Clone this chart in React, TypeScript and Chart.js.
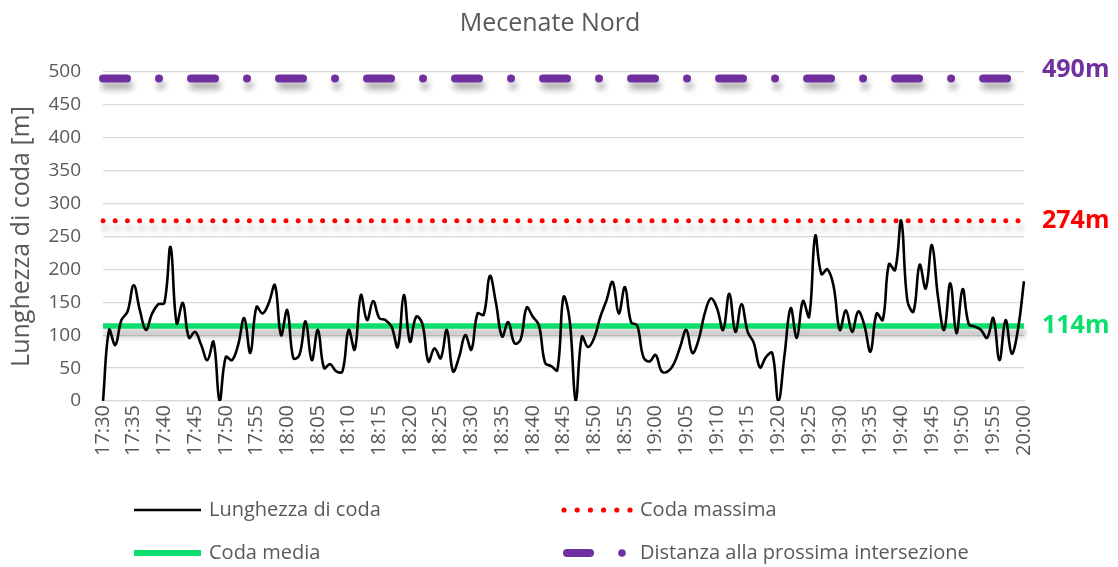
import React, { useEffect, useRef } from "react";
import { Chart, registerables } from "chart.js";

Chart.register(...registerables);

const TITLE = "Mecenate Nord";
const Y_TITLE = "Lunghezza di coda [m]";

const TICK_LABELS = [
  "17:30", "17:35", "17:40", "17:45", "17:50", "17:55",
  "18:00", "18:05", "18:10", "18:15", "18:20", "18:25",
  "18:30", "18:35", "18:40", "18:45", "18:50", "18:55",
  "19:00", "19:05", "19:10", "19:15", "19:20", "19:25",
  "19:30", "19:35", "19:40", "19:45", "19:50", "19:55", "20:00",
];

// one value per minute, 17:30 .. 20:00
const QUEUE = [
  0, 108, 85, 123, 136, 176, 138, 108, 133, 147,
  149, 234, 118, 149, 96, 105, 85, 62, 90, 0,
  67, 62, 85, 126, 73, 143, 133, 149, 176, 100,
  138, 65, 70, 121, 62, 108, 50, 56, 45, 45,
  108, 78, 161, 123, 152, 126, 123, 113, 82, 161,
  90, 128, 118, 60, 80, 65, 108, 45, 67, 100,
  78, 133, 131, 190, 149, 98, 120, 88, 93, 142,
  128, 115, 58, 53, 47, 158, 123, 0, 98, 82,
  96, 128, 153, 181, 133, 173, 120, 115, 67, 60,
  70, 45, 45, 57, 82, 108, 73, 93, 133, 156,
  141, 108, 163, 105, 147, 105, 88, 51, 67, 73,
  0, 70, 141, 96, 152, 128, 251, 193, 200, 174,
  108, 138, 105, 136, 115, 75, 133, 123, 208, 199,
  274, 153, 136, 207, 171, 237, 158, 108, 179, 103,
  170, 117, 113, 108, 96, 126, 62, 123, 72, 108,
  182,
];

const MAX_QUEUE = 274;
const MEAN_QUEUE = 114;
const NEXT_INTERSECTION = 490;

const SERIES_NAMES = [
  "Lunghezza di coda",
  "Coda massima",
  "Coda media",
  "Distanza alla prossima intersezione",
];

const COLORS = {
  queue: "#000000",
  max: "#FF0000",
  mean: "#0ADF6E",
  dist: "#7030A0",
  text: "#595959",
  grid: "#D9D9D9",
};

const FONT = "'Open Sans', 'DejaVu Sans', sans-serif";

export default function App() {
  const canvasRef = useRef<HTMLCanvasElement | null>(null);

  useEffect(() => {
    document.body.style.margin = "0";
    const canvas = canvasRef.current;
    if (!canvas) return;
    const categories = QUEUE.map((_, i) => i);

    const shadowPlugin = {
      id: "lineShadow",
      beforeDatasetDraw(chart: any, args: any) {
        if (args.index === 0) return;
        const ctx = chart.ctx;
        ctx.save();
        ctx.shadowColor = "rgba(0,0,0,0.32)";
        ctx.shadowBlur = 6;
        ctx.shadowOffsetX = 2;
        ctx.shadowOffsetY = 7;
      },
      afterDatasetDraw(chart: any, args: any) {
        if (args.index === 0) return;
        chart.ctx.restore();
      },
    };

    const decorPlugin = {
      id: "decor",
      afterDraw(chart: any) {
        const ctx = chart.ctx;
        const y = chart.scales.y;
        ctx.save();
        // title
        ctx.fillStyle = COLORS.text;
        ctx.font = `25px ${FONT}`;
        ctx.textAlign = "center";
        ctx.textBaseline = "middle";
        ctx.fillText(TITLE, 550, 24);

        // right value labels
        ctx.textAlign = "left";
        ctx.font = `bold 25px ${FONT}`;
        ctx.fillStyle = COLORS.dist;
        ctx.fillText(`${NEXT_INTERSECTION}m`, 1042, y.getPixelForValue(NEXT_INTERSECTION) - 9);
        ctx.fillStyle = COLORS.max;
        ctx.fillText(`${MAX_QUEUE}m`, 1042, y.getPixelForValue(MAX_QUEUE));
        ctx.fillStyle = COLORS.mean;
        ctx.fillText(`${MEAN_QUEUE}m`, 1042, y.getPixelForValue(MEAN_QUEUE));

        // legend
        const r1 = 510;
        const r2 = 553;
        ctx.lineCap = "butt";
        ctx.strokeStyle = COLORS.queue;
        ctx.lineWidth = 2.5;
        ctx.beginPath();
        ctx.moveTo(134, r1);
        ctx.lineTo(201, r1);
        ctx.stroke();

        ctx.strokeStyle = COLORS.mean;
        ctx.lineWidth = 6;
        ctx.beginPath();
        ctx.moveTo(134, r2);
        ctx.lineTo(201, r2);
        ctx.stroke();

        ctx.fillStyle = COLORS.max;
        for (let i = 0; i < 6; i++) {
          ctx.beginPath();
          ctx.arc(564 + i * 13.2, r1, 2.6, 0, Math.PI * 2);
          ctx.fill();
        }

        ctx.strokeStyle = COLORS.dist;
        ctx.lineWidth = 8;
        ctx.lineCap = "round";
        ctx.beginPath();
        ctx.moveTo(567, r2);
        ctx.lineTo(590, r2);
        ctx.stroke();
        ctx.fillStyle = COLORS.dist;
        ctx.beginPath();
        ctx.arc(622, r2, 3.8, 0, Math.PI * 2);
        ctx.fill();

        ctx.fillStyle = COLORS.text;
        ctx.font = `20px ${FONT}`;
        ctx.textBaseline = "middle";
        ctx.fillText(SERIES_NAMES[0], 209, r1);
        ctx.fillText(SERIES_NAMES[2], 209, r2);
        ctx.fillText(SERIES_NAMES[1], 640, r1);
        ctx.fillText(SERIES_NAMES[3], 640, r2);
        ctx.restore();
      },
    };

    const chart = new Chart(canvas, {
      type: "line",
      data: {
        labels: categories,
        datasets: [
          {
            label: SERIES_NAMES[0],
            data: QUEUE,
            borderColor: COLORS.queue,
            borderWidth: 2.6,
            pointRadius: 0,
            tension: 0.4,
            fill: false,
            order: 0,
          },
          {
            label: SERIES_NAMES[1],
            data: QUEUE.map(() => MAX_QUEUE),
            borderColor: COLORS.max,
            borderWidth: 5,
            borderDash: [0, 12.2],
            borderCapStyle: "round",
            pointRadius: 0,
            fill: false,
            order: 1,
          },
          {
            label: SERIES_NAMES[2],
            data: QUEUE.map(() => MEAN_QUEUE),
            borderColor: COLORS.mean,
            borderWidth: 5.5,
            pointRadius: 0,
            fill: false,
            order: 2,
          },
          {
            label: SERIES_NAMES[3],
            data: QUEUE.map(() => NEXT_INTERSECTION),
            borderColor: COLORS.dist,
            borderWidth: 8,
            borderDash: [24, 32, 0.01, 32],
            borderDashOffset: 0,
            borderCapStyle: "round",
            pointRadius: 0,
            fill: false,
            order: 3,
          },
        ],
      },
      options: {
        responsive: false,
        animation: false,
        devicePixelRatio: 1,
        layout: { padding: { left: 0, right: 94, top: 72, bottom: 0 } },
        plugins: {
          legend: { display: false },
          title: { display: false },
          tooltip: { enabled: false },
        },
        scales: {
          x: {
            type: "category",
            offset: false,
            grid: { display: false, drawTicks: false },
            border: { display: true, color: COLORS.grid, width: 1.3 },
            ticks: {
              autoSkip: false,
              maxRotation: 90,
              minRotation: 90,
              padding: 4,
              color: COLORS.text,
              font: { family: FONT, size: 20 },
              callback: (_v: any, i: number) => (i % 5 === 0 ? TICK_LABELS[i / 5] : null),
            },
            afterFit: (axis: any) => {
              axis.height = 166;
            },
          },
          y: {
            min: 0,
            max: 500,
            grid: { color: COLORS.grid, lineWidth: 1.3, drawTicks: false },
            border: { display: false },
            ticks: {
              stepSize: 50,
              padding: 22,
              color: COLORS.text,
              font: { family: FONT, size: 19 },
            },
            title: {
              display: true,
              text: Y_TITLE,
              color: COLORS.text,
              font: { family: FONT, size: 25, weight: "normal" },
              padding: { top: 7, bottom: 0 },
            },
            afterFit: (axis: any) => {
              axis.width = 103;
            },
          },
        },
      },
      plugins: [shadowPlugin, decorPlugin],
    } as any);

    return () => chart.destroy();
  }, []);

  return (
    <div style={{ width: 1118, height: 567, position: "relative" }}>
      <canvas ref={canvasRef} width={1118} height={567} />
    </div>
  );
}
